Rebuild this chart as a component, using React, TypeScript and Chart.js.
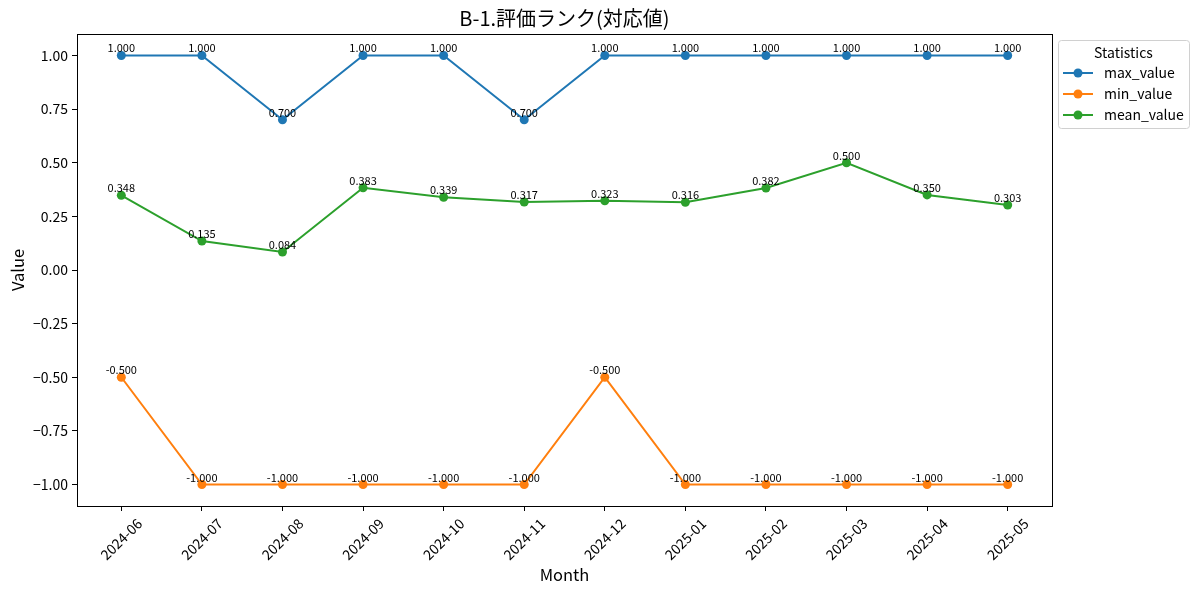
import React, { useEffect, useRef } from 'react';
import { Chart, registerables } from 'chart.js';

Chart.register(...registerables);

const months = ['2024-06', '2024-07', '2024-08', '2024-09', '2024-10', '2024-11', '2024-12', '2025-01', '2025-02', '2025-03', '2025-04', '2025-05'];
const maxValues = [1, 1, 0.7, 1, 1, 0.7, 1, 1, 1, 1, 1, 1];
const minValues = [-0.5, -1, -1, -1, -1, -1, -0.5, -1, -1, -1, -1, -1];
const meanValues = [0.348, 0.135, 0.084, 0.383, 0.339, 0.317, 0.323, 0.316, 0.382, 0.5, 0.35, 0.303];
const yTickValues = [-1, -0.75, -0.5, -0.25, 0, 0.25, 0.5, 0.75, 1];

const FONT = "'Noto Sans CJK JP', 'Noto Sans', sans-serif";
const TITLE = 'B-1.評価ランク(対応値)';
const LEGEND_TITLE = 'Statistics';

const toPoints = (vals: number[]) => vals.map((y, i) => ({ x: i, y }));

// frame, title, rotated month labels, value labels and legend
const decorPlugin = {
  id: 'decor',
  afterDatasetsDraw(chart: any) {
    const ctx = chart.ctx;
    ctx.save();
    ctx.fillStyle = '#000';
    ctx.font = `11px ${FONT}`;
    ctx.textAlign = 'center';
    ctx.textBaseline = 'alphabetic';
    chart.data.datasets.forEach((ds: any, di: number) => {
      const meta = chart.getDatasetMeta(di);
      meta.data.forEach((pt: any, i: number) => {
        ctx.fillText(ds.data[i].y.toFixed(3), pt.x, pt.y - 3);
      });
    });
    ctx.restore();
  },
  afterDraw(chart: any) {
    const ctx = chart.ctx;
    const area = chart.chartArea;
    ctx.save();
    // axes frame
    ctx.strokeStyle = '#000';
    ctx.lineWidth = 1;
    ctx.strokeRect(Math.round(area.left) + 0.5, Math.round(area.top) + 0.5, Math.round(area.right - area.left), Math.round(area.bottom - area.top));

    // title
    ctx.fillStyle = '#000';
    ctx.font = `20px ${FONT}`;
    ctx.textAlign = 'center';
    ctx.textBaseline = 'middle';
    ctx.fillText(TITLE, (area.left + area.right) / 2, 18);

    // x tick labels, rotated 45 degrees and centered under the tick
    const xs = chart.scales.x;
    ctx.font = `14px ${FONT}`;
    months.forEach((m, i) => {
      const px = xs.getPixelForValue(i);
      const w = ctx.measureText(m).width;
      const half = (w + 14) * Math.SQRT1_2 / 2;
      ctx.save();
      ctx.translate(px, area.bottom + 10 + half);
      ctx.rotate(-Math.PI / 4);
      ctx.fillText(m, 0, 0);
      ctx.restore();
    });

    // legend
    const lx = area.right + 6;
    const ly = 40;
    const lw = 131;
    const lh = 88;
    ctx.fillStyle = 'rgba(255,255,255,0.8)';
    ctx.strokeStyle = '#d0d0d0';
    ctx.beginPath();
    ctx.roundRect(lx + 0.5, ly + 0.5, lw, lh, 3);
    ctx.fill();
    ctx.stroke();
    ctx.fillStyle = '#000';
    ctx.font = `14px ${FONT}`;
    ctx.textAlign = 'center';
    ctx.fillText(LEGEND_TITLE, lx + lw / 2, 53);
    ctx.textAlign = 'left';
    chart.data.datasets.forEach((ds: any, i: number) => {
      const y = 73 + i * 21;
      ctx.strokeStyle = ds.borderColor;
      ctx.lineWidth = 2;
      ctx.beginPath();
      ctx.moveTo(lx + 5, y);
      ctx.lineTo(lx + 35, y);
      ctx.stroke();
      ctx.fillStyle = ds.borderColor;
      ctx.beginPath();
      ctx.arc(lx + 20, y, 4.5, 0, Math.PI * 2);
      ctx.fill();
      ctx.fillStyle = '#000';
      ctx.fillText(ds.label, lx + 46, y);
    });
    ctx.restore();
  },
};

const App = () => {
  const canvasRef = useRef<HTMLCanvasElement | null>(null);
  const chartRef = useRef<Chart | null>(null);

  useEffect(() => {
    document.body.style.margin = '0';
    if (!canvasRef.current) return;
    if (chartRef.current) chartRef.current.destroy();

    const line = (label: string, vals: number[], color: string) => ({
      label,
      data: toPoints(vals),
      borderColor: color,
      backgroundColor: color,
      borderWidth: 2,
      pointRadius: 4.5,
      pointHoverRadius: 4.5,
      pointBorderWidth: 0,
    });

    chartRef.current = new Chart(canvasRef.current, {
      type: 'line',
      data: {
        datasets: [
          line('max_value', maxValues, '#1f77b4'),
          line('min_value', minValues, '#ff7f0e'),
          line('mean_value', meanValues, '#2ca02c'),
        ],
      },
      options: {
        animation: false,
        responsive: false,
        layout: { padding: { top: 34, right: 148, left: 0, bottom: 0 } },
        plugins: {
          legend: { display: false },
          tooltip: { enabled: false },
          title: { display: false },
        },
        scales: {
          x: {
            type: 'linear',
            min: -0.55,
            max: 11.55,
            afterBuildTicks: (scale: any) => {
              scale.ticks = months.map((_, i) => ({ value: i }));
            },
            afterFit: (scale: any) => {
              scale.height = 89;
            },
            ticks: { display: false, autoSkip: false },
            grid: { drawOnChartArea: false, drawTicks: true, tickLength: 5, color: '#000' },
            border: { display: true, color: '#000' },
            title: {
              display: true,
              text: 'Month',
              color: '#000',
              font: { family: FONT, size: 16.5 },
              padding: { top: 0, bottom: 10 },
            },
          },
          y: {
            min: -1.1,
            max: 1.1,
            afterBuildTicks: (scale: any) => {
              scale.ticks = yTickValues.map((v) => ({ value: v }));
            },
            afterFit: (scale: any) => {
              scale.width = 77;
            },
            ticks: {
              color: '#000',
              padding: 4,
              font: { family: FONT, size: 14 },
              callback: (v: any) => Number(v).toFixed(2).replace('-', '\u2212'),
            },
            grid: { drawOnChartArea: false, drawTicks: true, tickLength: 5, color: '#000' },
            border: { display: true, color: '#000' },
            title: {
              display: true,
              text: 'Value',
              color: '#000',
              font: { family: FONT, size: 16.5 },
              padding: { top: 8, bottom: 0 },
            },
          },
        },
      },
      plugins: [decorPlugin],
    } as any);

    return () => {
      if (chartRef.current) {
        chartRef.current.destroy();
        chartRef.current = null;
      }
    };
  }, []);

  return (
    <div style={{ width: 1200, height: 595, background: '#fff' }}>
      <canvas ref={canvasRef} width={1200} height={595} style={{ display: 'block' }} />
    </div>
  );
};

export default App;
